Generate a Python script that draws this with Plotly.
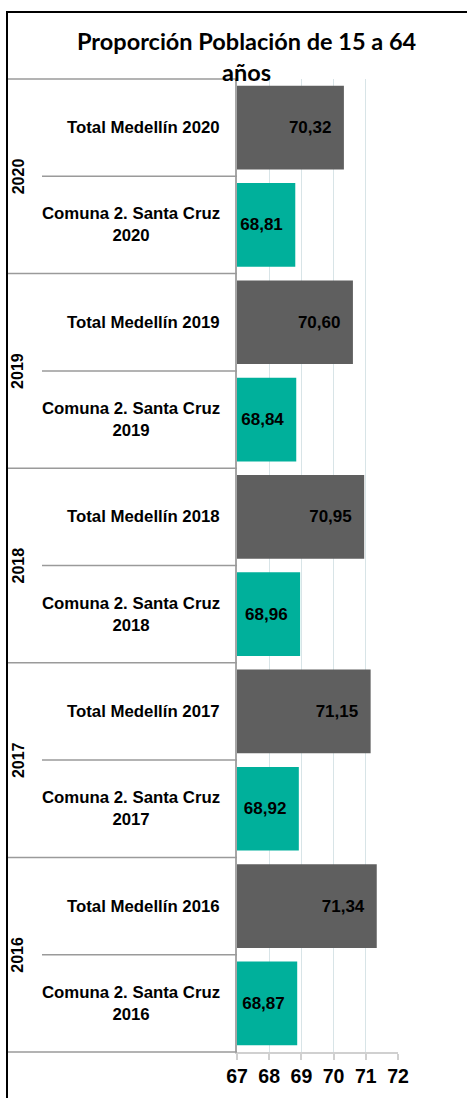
import plotly.graph_objects as go

# ---- data ----
years = ["2020", "2019", "2018", "2017", "2016"]
medellin_vals = [70.32, 70.60, 70.95, 71.15, 71.34]
comuna_vals = [68.81, 68.84, 68.96, 68.92, 68.87]
medellin_labels = [f"Total Medellín {y}" for y in years]
comuna_labels = [f"Comuna 2. Santa Cruz<br>{y}" for y in years]
x_ticks = [67, 68, 69, 70, 71, 72]
title_text = "Proporción Población de 15 a 64<br>años"

GRAY = "#5f5f5f"
TEAL = "#00b09b"
FONT = "Liberation Sans, Arial, sans-serif"

W, H = 467, 1098
L, R, T, B = 237, 69, 79, 46
PW = W - L - R
PH = H - T - B


def px_x(px):
    return (px - L) / PW


def px_y(py):
    return 1 - (py - T) / PH


cats, vals, colors = [], [], []
for i, y in enumerate(years):
    cats += [medellin_labels[i], comuna_labels[i]]
    vals += [medellin_vals[i], comuna_vals[i]]
    colors += [GRAY, TEAL]

fig = go.Figure(
    go.Bar(
        y=cats,
        x=[v - x_ticks[0] for v in vals],
        base=x_ticks[0],
        orientation="h",
        marker=dict(color=colors, line=dict(width=0)),
        text=[f"{v:.2f}".replace(".", ",") + "&nbsp;&nbsp;" for v in vals],
        textposition="inside",
        insidetextanchor="end",
        textfont=dict(family=FONT, size=17, color="black", weight="bold"),
        hoverinfo="skip",
    )
)

annotations = []
shapes = []
n = len(cats)
for i, c in enumerate(cats):
    annotations.append(
        dict(
            x=px_x(222), xref="paper", xanchor="right",
            y=c, yref="y", yanchor="middle",
            text=f"<b>{c}</b>", showarrow=False, align="center",
            font=dict(family=FONT, size=16.8, color="black"),
        )
    )
for i, y in enumerate(years):
    annotations.append(
        dict(
            x=px_x(18), xref="paper", xanchor="center",
            y=1 - (2 * i + 1) / n, yref="paper", yanchor="middle",
            text=f"<b>{y}</b>", showarrow=False, textangle=-90,
            font=dict(family=FONT, size=16, color="black"),
        )
    )

# title as an annotation
annotations.append(
    dict(
        x=px_x(247), xref="paper", xanchor="center",
        y=px_y(25), yref="paper", yanchor="top",
        text=f"<b>{title_text}</b>", showarrow=False, align="center",
        font=dict(family="Lato, Open Sans, sans-serif", size=23.5, color="black"),
    )
)

# separators
for k in range(n + 1):
    yy = 1 - k / n
    x0 = px_x(7) if k % 2 == 0 else px_x(42)
    shapes.append(dict(type="line", xref="paper", yref="paper", x0=x0, x1=0,
                       y0=yy, y1=yy, line=dict(color="#9a9a9a", width=1.5)))

# outer frame
shapes.append(dict(type="line", xref="paper", yref="paper", x0=px_x(7), x1=px_x(W + 5),
                   y0=px_y(12), y1=px_y(12), line=dict(color="black", width=2)))
shapes.append(dict(type="line", xref="paper", yref="paper", x0=px_x(7), x1=px_x(7),
                   y0=px_y(11), y1=px_y(H + 5), line=dict(color="black", width=2)))

fig.update_layout(
    width=W, height=H,
    margin=dict(l=L, r=R, t=T, b=B),
    paper_bgcolor="white", plot_bgcolor="white",
    showlegend=False,
    bargap=0.14,
    xaxis=dict(
        range=[x_ticks[0], x_ticks[-1]], tickvals=x_ticks,
        ticktext=[str(t) for t in x_ticks],
        showgrid=True, gridcolor="#d8e4e7", gridwidth=1,
        showline=True, linecolor="#d0d0d0", linewidth=2,
        ticks="outside", ticklen=6, tickcolor="#d0d0d0", tickwidth=1.5,
        tickfont=dict(family=FONT, size=19.5, color="black", weight="bold"),
        zeroline=False, fixedrange=True,
    ),
    yaxis=dict(
        categoryorder="array", categoryarray=cats, autorange="reversed",
        showticklabels=False, showline=True, linecolor="#a6a6a6", linewidth=2,
        ticks="", showgrid=False, fixedrange=True,
    ),
    annotations=annotations,
    shapes=shapes,
)

fig.write_html(
    "out.html",
    config={"displayModeBar": False},
    post_script="document.body.style.margin='0';document.body.style.overflow='hidden';",
)
